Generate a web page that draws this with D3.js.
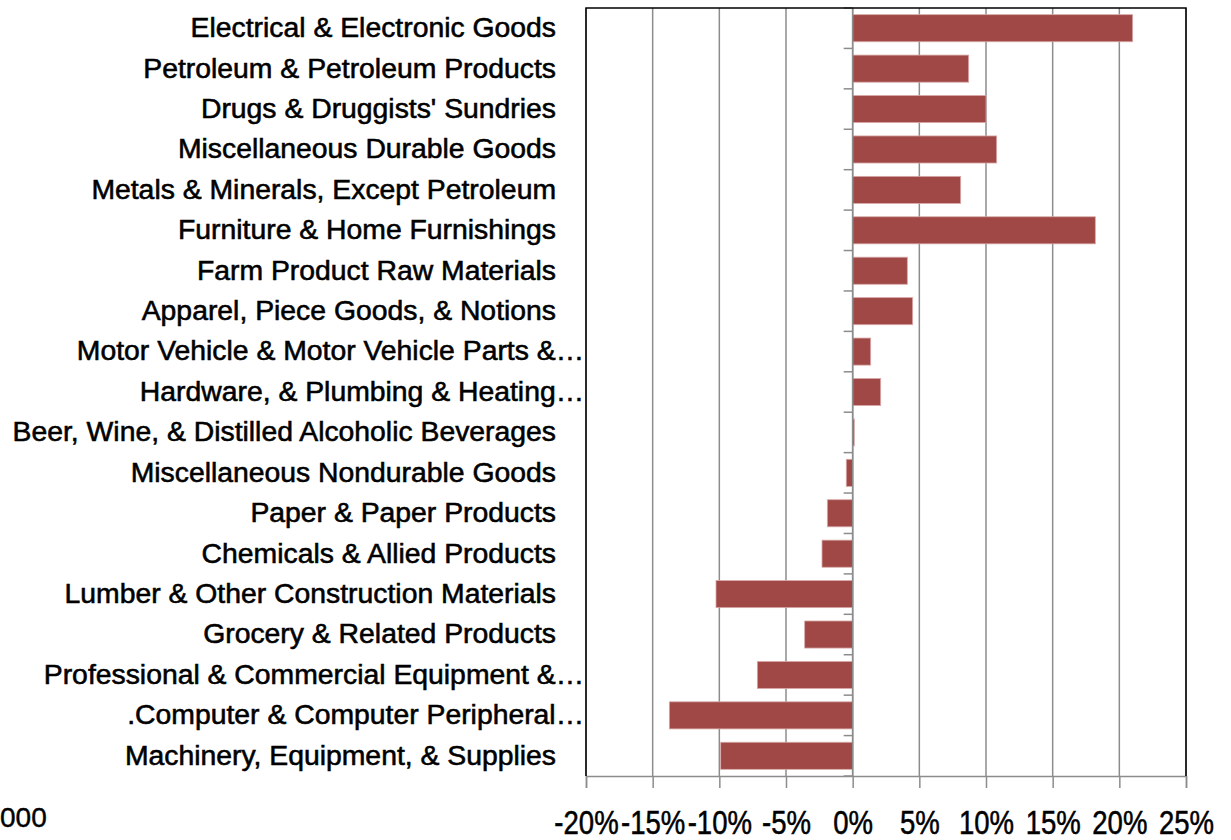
<!DOCTYPE html>
<html>
<head>
<meta charset="utf-8">
<script src="https://cdn.jsdelivr.net/npm/d3@7"></script>
<style>
  html, body { margin: 0; padding: 0; background: #fff; }
  svg { display: block; }
  .lbl { font-family: "Liberation Sans", Arial, sans-serif; fill: #000; stroke: #000; stroke-width: 0.55px; }
</style>
</head>
<body>
<svg id="chart" width="1231" height="840"></svg>
<script>
// Year-over-year change by wholesale trade category
const categories = [
  "Electrical & Electronic Goods",
  "Petroleum & Petroleum Products",
  "Drugs & Druggists' Sundries",
  "Miscellaneous Durable Goods",
  "Metals & Minerals, Except Petroleum",
  "Furniture & Home Furnishings",
  "Farm Product Raw Materials",
  "Apparel, Piece Goods, & Notions",
  "Motor Vehicle & Motor Vehicle Parts &…",
  "Hardware, & Plumbing & Heating…",
  "Beer, Wine, & Distilled Alcoholic Beverages",
  "Miscellaneous Nondurable Goods",
  "Paper & Paper Products",
  "Chemicals & Allied Products",
  "Lumber & Other Construction Materials",
  "Grocery & Related Products",
  "Professional & Commercial Equipment &…",
  ".Computer & Computer Peripheral…",
  "Machinery, Equipment, & Supplies"
];
const changePct = [
  21.0, 8.7, 10.0, 10.8, 8.1, 18.2, 4.1, 4.5, 1.35, 2.1,
  0.12, -0.48, -1.9, -2.3, -10.25, -3.6, -7.15, -13.75, -9.9
];
const xTicks = [-20, -15, -10, -5, 0, 5, 10, 15, 20, 25];
const cornerText = "000";

const svg = d3.select("#chart");
const plot = { left: 586, right: 1186, top: 8, bottom: 776 };

const x = d3.scaleLinear().domain([-20, 25]).range([plot.left, plot.right]);
const y = d3.scaleBand().domain(categories).range([plot.top, plot.bottom])
  .paddingInner(0.33).paddingOuter(0.165);
const yEdges = d3.scaleBand().domain(categories).range([plot.top, plot.bottom]);

// vertical gridlines
svg.append("g").selectAll("line").data(xTicks).join("line")
  .attr("x1", d => x(d)).attr("x2", d => x(d))
  .attr("y1", plot.top).attr("y2", plot.bottom)
  .attr("stroke", "#8c8c8c").attr("stroke-width", 1.5);

// bottom value axis (condensed tick labels)
const xAxis = d3.axisBottom(x).tickValues(xTicks).tickSize(12).tickFormat(d => d + "%");
const gx = svg.append("g").attr("transform", `translate(0,${plot.bottom})`).call(xAxis);
gx.select(".domain").attr("stroke", "#8c8c8c").attr("stroke-width", 1.5);
gx.selectAll(".tick line").attr("stroke", "#8c8c8c").attr("stroke-width", 1.5);
gx.selectAll(".tick text")
  .attr("class", "lbl")
  .attr("x", 0).attr("y", 0).attr("dy", 0)
  .attr("transform", "translate(0,58) scale(0.81,1)")
  .style("font-size", "34px");

// bars
svg.append("g").selectAll("rect").data(categories).join("rect")
  .attr("x", (d, i) => x(Math.min(0, changePct[i])))
  .attr("width", (d, i) => Math.abs(x(changePct[i]) - x(0)))
  .attr("y", d => y(d))
  .attr("height", y.bandwidth())
  .attr("fill", "#9f4845")
  .attr("stroke", "#d9a9a8").attr("stroke-width", 0.8);

// category axis at zero with tick marks on band edges
const edges = categories.map(c => yEdges(c)).concat([plot.bottom]);
svg.append("line")
  .attr("x1", x(0)).attr("x2", x(0)).attr("y1", plot.top).attr("y2", plot.bottom)
  .attr("stroke", "#8c8c8c").attr("stroke-width", 1.5);
svg.append("g").selectAll("line").data(edges).join("line")
  .attr("x1", x(0) - 9).attr("x2", x(0))
  .attr("y1", d => d).attr("y2", d => d)
  .attr("stroke", "#8c8c8c").attr("stroke-width", 1.5);

// plot area frame
svg.append("path")
  .attr("d", `M${plot.left},${plot.bottom}V${plot.top}H${plot.right}V${plot.bottom}`)
  .attr("fill", "none").attr("stroke", "#000").attr("stroke-width", 1.5);

// category labels, right-aligned beside the plot
svg.append("g").selectAll("text").data(categories).join("text")
  .attr("class", "lbl")
  .attr("transform", d => {
    const tx = d.endsWith("…") ? 584 : 556;
    const ty = yEdges(d) + yEdges.bandwidth() / 2;
    return `translate(${tx},${ty}) scale(1.05,1)`;
  })
  .attr("dy", "0.33em")
  .attr("text-anchor", "end")
  .style("font-size", "27px")
  .text(d => d);

// clipped label fragment at the lower-left corner
svg.append("text")
  .attr("x", 0).attr("y", 827)
  .style("font-family", "'Liberation Sans', sans-serif")
  .style("font-size", "28px")
  .style("stroke", "#000").style("stroke-width", "0.4px")
  .text(cornerText);
</script>
</body>
</html>
